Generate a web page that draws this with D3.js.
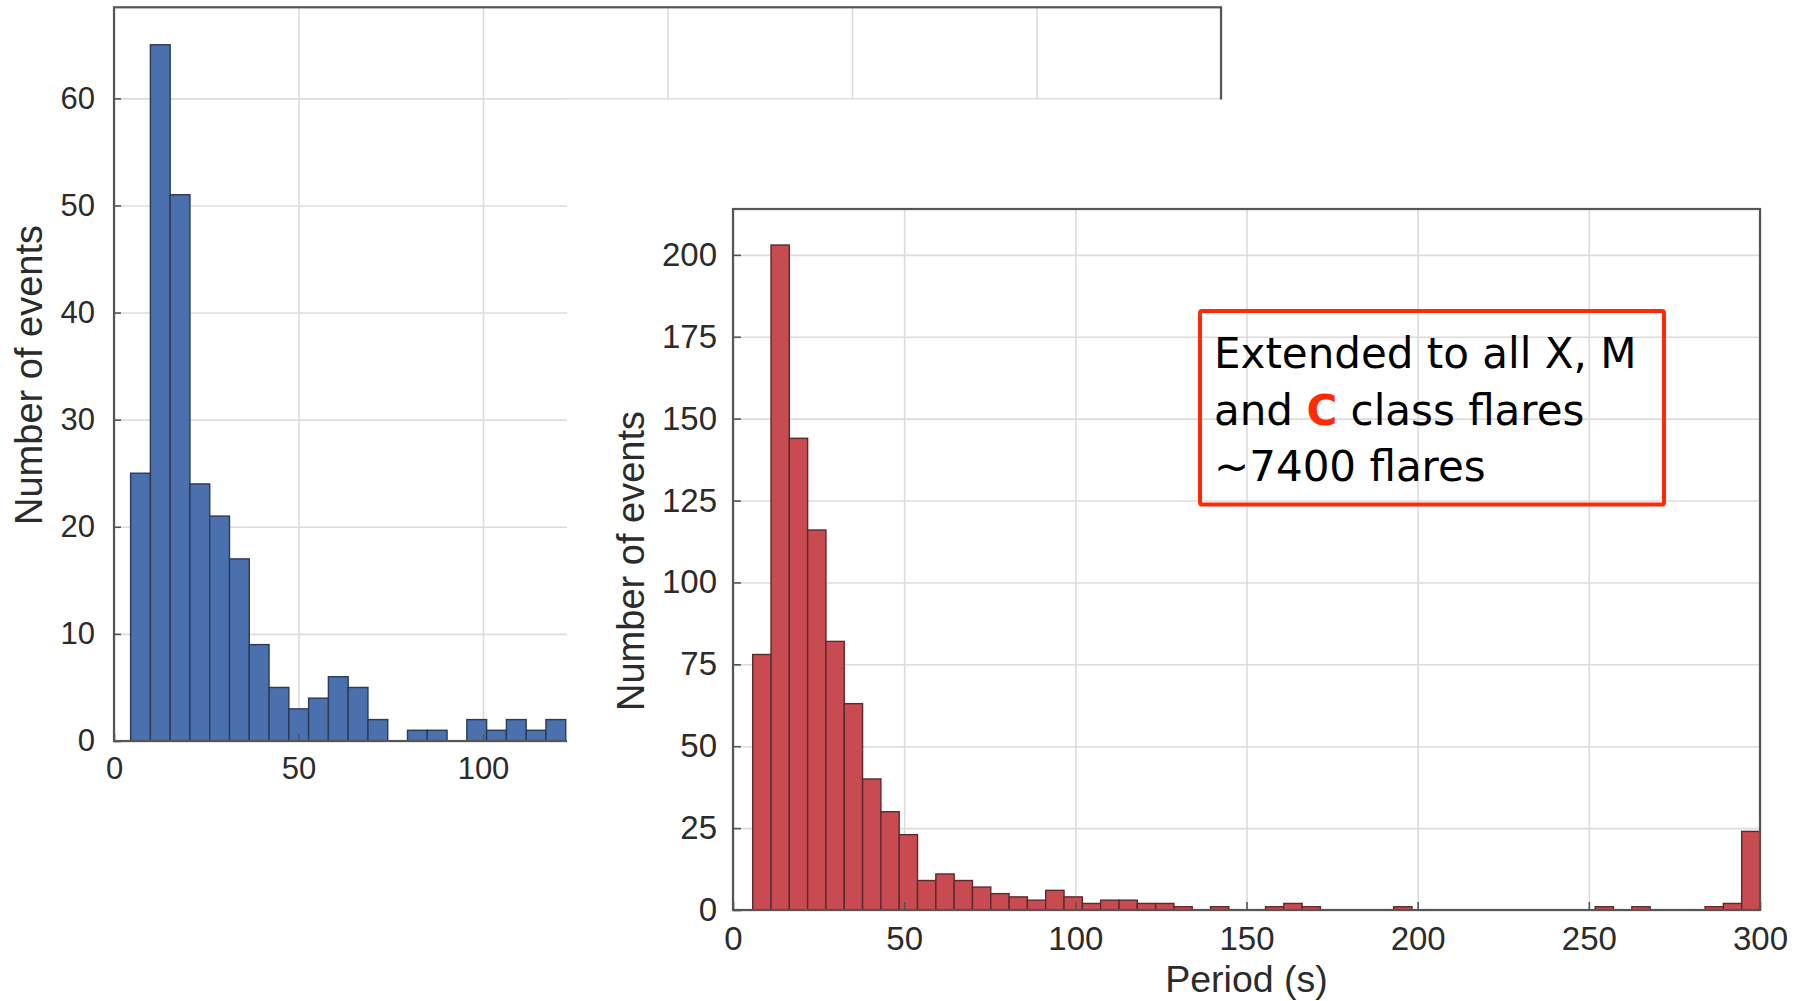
<!DOCTYPE html>
<html>
<head>
<meta charset="utf-8">
<script src="https://cdn.jsdelivr.net/npm/d3@7"></script>
<style>
  html, body { margin: 0; padding: 0; background: #ffffff; }
  svg { display: block; }
</style>
</head>
<body>
<svg id="chart" width="1804" height="1001"></svg>
<script>
// ---- Data ----------------------------------------------------------------
// X-class + M-class flares: histogram of periods (s)
const xmBinStart = 4.5;
const xmBinWidth = 5.36;
const xmCounts = [25, 65, 51, 24, 21, 17, 9, 5, 3, 4, 6, 5, 2, 0, 1, 1, 0, 2, 1, 2, 1, 2];

// X, M and C class flares: histogram of periods (s), last bin holds >= 295 s
const xmcBinStart = 5.75;
const xmcBinWidth = 5.35;
const xmcCounts = [
  78, 203, 144, 116, 82, 63, 40, 30, 23, 9,
  11, 9, 7, 5, 4, 3, 6, 4, 2, 3,
  3, 2, 2, 1, 0, 1, 0, 0, 1, 2,
  1, 0, 0, 0, 0, 1, 0, 0, 0, 0,
  0, 0, 0, 0, 0, 0, 1, 0, 1, 0,
  0, 0, 1, 2, 24
];

const xmYTicks = [0, 10, 20, 30, 40, 50, 60];
const xmXGrid = [0, 50, 100, 150, 200, 250, 300];
const xmXTicks = [0, 50, 100];           // the rest sit under the second panel
const xmcYTicks = [0, 25, 50, 75, 100, 125, 150, 175, 200];
const xmcXTicks = [0, 50, 100, 150, 200, 250, 300];

const yTitle = "Number of events";
const xTitle = "Period (s)";
const noteLines = [
  [{ t: "Extended to all X, M" }],
  [{ t: "and " }, { t: "C", hl: true }, { t: " class flares" }],
  [{ t: "~7400 flares" }]
];

// ---- Drawing helpers -----------------------------------------------------
const svg = d3.select("#chart");
const TEXT = "#2b2b2b";
const GRID = "#dcdcdc";
const FRAME = "#555555";
const SANS = "'Liberation Sans', Arial, sans-serif";

function drawHistogram(g, cfg) {
  const { x, y, start, width, counts, fill, edge } = cfg;
  const [x0, x1] = x.range();
  const [y0, y1] = y.range();

  // grid lines
  g.append("g")
    .attr("transform", `translate(0,${y0})`)
    .call(d3.axisBottom(x).tickValues(cfg.xGrid).tickSize(-(y0 - y1)).tickFormat(""))
    .call(s => s.select(".domain").remove())
    .call(s => s.selectAll("line").attr("stroke", GRID).attr("stroke-width", 1.6));
  g.append("g")
    .attr("transform", `translate(${x0},0)`)
    .call(d3.axisLeft(y).tickValues(cfg.yTicks).tickSize(-(x1 - x0)).tickFormat(""))
    .call(s => s.select(".domain").remove())
    .call(s => s.selectAll("line").attr("stroke", GRID).attr("stroke-width", 1.6));

  // bars
  const bins = counts.map((c, i) => ({ lo: start + i * width, hi: start + (i + 1) * width, c }))
    .filter(d => d.c > 0);
  g.append("g").selectAll("rect").data(bins).join("rect")
    .attr("x", d => x(d.lo))
    .attr("width", d => x(d.hi) - x(d.lo))
    .attr("y", d => y(d.c))
    .attr("height", d => y(0) - y(d.c))
    .attr("fill", fill)
    .attr("stroke", edge)
    .attr("stroke-width", 1.4);

  // axes with inward ticks
  g.append("g")
    .attr("transform", `translate(0,${y0})`)
    .call(d3.axisBottom(x).tickValues(cfg.xTicks).tickSize(-cfg.tickLen).tickPadding(cfg.xPad))
    .call(s => s.select(".domain").remove())
    .call(s => s.selectAll("line").attr("stroke", FRAME).attr("stroke-width", 1.6))
    .call(s => s.selectAll("text").attr("fill", TEXT)
      .style("font-family", SANS)
      .style("font-size", cfg.tickFont + "px"));
  g.append("g")
    .attr("transform", `translate(${x0},0)`)
    .call(d3.axisLeft(y).tickValues(cfg.yTicks).tickSize(-cfg.tickLen).tickPadding(cfg.yPad))
    .call(s => s.select(".domain").remove())
    .call(s => s.selectAll("line").attr("stroke", FRAME).attr("stroke-width", 1.6))
    .call(s => s.selectAll("text").attr("fill", TEXT)
      .style("font-family", SANS)
      .style("font-size", cfg.tickFont + "px"));

  // box
  g.append("rect")
    .attr("x", x0).attr("y", y1)
    .attr("width", x1 - x0).attr("height", y0 - y1)
    .attr("fill", "none").attr("stroke", FRAME).attr("stroke-width", 2.2);

  // y title
  g.append("text")
    .attr("transform", `translate(${cfg.yTitleX},${cfg.yTitleY}) rotate(-90)`)
    .attr("text-anchor", "middle")
    .attr("fill", TEXT)
    .style("font-family", SANS)
    .style("font-size", cfg.titleFont + "px")
    .text(yTitle);
}

// ---- X+M panel -----------------------------------------------------------
const xmX = d3.scaleLinear().domain([0, 300]).range([114, 1221]);
const xmY = d3.scaleLinear().domain([0, 68.5]).range([741, 7.3]);
const xmG = svg.append("g");
drawHistogram(xmG, {
  x: xmX, y: xmY, start: xmBinStart, width: xmBinWidth, counts: xmCounts,
  fill: "#4a70ae", edge: "#2b3a58",
  xGrid: xmXGrid, xTicks: xmXTicks, yTicks: xmYTicks,
  tickLen: 7, xPad: 16, yPad: 19, tickFont: 31, titleFont: 38,
  yTitleX: 42, yTitleY: 375
});

// the second figure sits on top of the first one
svg.append("rect")
  .attr("x", 567).attr("y", 99.5)
  .attr("width", 1804 - 567).attr("height", 1001 - 99.5)
  .attr("fill", "#ffffff");

// ---- X+M+C panel ---------------------------------------------------------
const xmcX = d3.scaleLinear().domain([0, 300]).range([733, 1760]);
const xmcY = d3.scaleLinear().domain([0, 214]).range([910, 209]);
const xmcG = svg.append("g");
drawHistogram(xmcG, {
  x: xmcX, y: xmcY, start: xmcBinStart, width: xmcBinWidth, counts: xmcCounts,
  fill: "#c84b51", edge: "#5c2a2d",
  xGrid: xmcXTicks, xTicks: xmcXTicks, yTicks: xmcYTicks,
  tickLen: 8, xPad: 17, yPad: 16, tickFont: 33, titleFont: 38,
  yTitleX: 644, yTitleY: 561
});

xmcG.append("text")
  .attr("x", xmcX(150)).attr("y", 992)
  .attr("text-anchor", "middle")
  .attr("fill", TEXT)
  .style("font-family", SANS)
  .style("font-size", "37.5px")
  .text(xTitle);

// ---- Note box ------------------------------------------------------------
const NOTE_RED = "#ff2b06";
const note = svg.append("g");
note.append("rect")
  .attr("x", 1200).attr("y", 311)
  .attr("width", 464).attr("height", 193.5)
  .attr("rx", 2)
  .attr("fill", "none")
  .attr("stroke", NOTE_RED)
  .attr("stroke-width", 4);

const noteText = note.append("text")
  .attr("fill", "#000000")
  .style("font-family", "'DejaVu Sans', Verdana, sans-serif")
  .style("font-size", "42px");
noteLines.forEach((line, i) => {
  const row = noteText.append("tspan").attr("x", 1214).attr("y", 368 + i * 56.7);
  line.forEach(part => {
    const ts = row.append("tspan").text(part.t);
    if (part.hl) ts.attr("fill", NOTE_RED).style("font-weight", "bold");
  });
});
</script>
</body>
</html>
